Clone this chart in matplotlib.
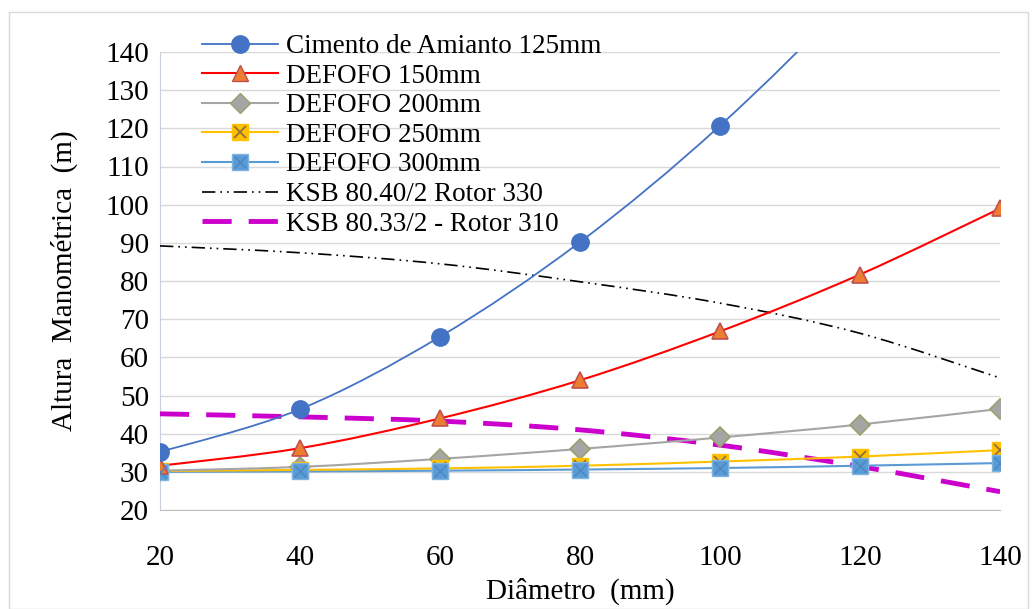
import matplotlib
matplotlib.use("Agg")
import matplotlib.pyplot as plt
from matplotlib.path import Path
from matplotlib.patches import PathPatch, Rectangle
from matplotlib.lines import Line2D
from matplotlib.legend_handler import HandlerTuple
import numpy as np

plt.rcParams['font.family'] = ['Liberation Serif', 'DejaVu Serif']

# ---- data ----
diametro = [20, 40, 60, 80, 100, 120, 140]
cimento_125 = [35.2, 46.4, 65.4, 90.2, 120.7, 157.0, 199.0]
defofo_150 = [31.6, 36.2, 44.0, 54.0, 66.8, 81.7, 99.0]
defofo_200 = [30.3, 31.3, 33.4, 36.0, 39.0, 42.4, 46.5]
defofo_250 = [30.2, 30.5, 30.9, 31.6, 32.7, 34.0, 35.7]
defofo_300 = [30.0, 30.1, 30.3, 30.6, 31.0, 31.6, 32.3]
ksb_8040 = [89.2, 87.4, 84.5, 79.8, 74.2, 66.3, 54.6]
ksb_8033 = [45.2, 44.4, 43.3, 41.0, 37.0, 31.4, 24.8]

labels = ["Cimento de Amianto 125mm", "DEFOFO 150mm", "DEFOFO 200mm",
          "DEFOFO 250mm", "DEFOFO 300mm", "KSB 80.40/2 Rotor 330",
          "KSB 80.33/2 - Rotor 310"]
yticks = list(range(20, 141, 10))
xticks = diametro

W, H = 1032, 609
fig = plt.figure(figsize=(W / 100, H / 100), dpi=100)
fig.patches.append(Rectangle((9 / W, 0), 1019 / W, (H - 12) / H, transform=fig.transFigure,
                             fill=False, edgecolor='#d9d9d9', lw=1.0))
ax = fig.add_axes([160 / W, (H - 510) / H, 840 / W, 458 / H])


def smooth(ax, xs, ys, **kw):
    xs = np.asarray(xs, float); ys = np.asarray(ys, float)
    pts = np.column_stack([xs, ys])
    verts = [pts[0]]
    codes = [Path.MOVETO]
    n = len(pts)
    for i in range(n - 1):
        p0 = pts[i - 1] if i > 0 else pts[i]
        p1 = pts[i]
        p2 = pts[i + 1]
        p3 = pts[i + 2] if i + 2 < n else pts[i + 1]
        c1 = p1 + (p2 - p0) / 6.0
        c2 = p2 - (p3 - p1) / 6.0
        verts += [c1, c2, p2]
        codes += [Path.CURVE4] * 3
    patch = PathPatch(Path(verts, codes), fill=False, transform=ax.transData, **kw)
    ax.add_patch(patch)
    return patch


c_blue = '#4472C4'
c_red = '#FF0000'
c_gray = '#A5A5A5'
c_yel = '#FFC000'
c_lblue = '#5B9BD5'
c_mag = '#CC00CC'
dashdot = (0, (8, 3, 1, 3, 1, 3))
dash = (0, (6, 3.5))

# pump curves
smooth(ax, diametro, ksb_8040, edgecolor='black', lw=1.2, linestyle=dashdot, zorder=3)
smooth(ax, diametro, ksb_8033, edgecolor=c_mag, lw=3.5, linestyle=dash, zorder=3)

# pipe curves (lines)
smooth(ax, diametro, defofo_300, edgecolor=c_lblue, lw=1.5, zorder=4)
smooth(ax, diametro, defofo_250, edgecolor=c_yel, lw=1.5, zorder=4)
smooth(ax, diametro, defofo_200, edgecolor=c_gray, lw=1.5, zorder=4)
smooth(ax, diametro, defofo_150, edgecolor=c_red, lw=1.5, zorder=4)
smooth(ax, diametro, cimento_125, edgecolor=c_blue, lw=1.3, zorder=4)

# markers
ms_sq = 11
ax.plot(diametro, defofo_300, 's', ms=ms_sq, mfc=c_lblue, mec='#7FB3E0', mew=1.0, zorder=5)
ax.plot(diametro, defofo_300, 'x', ms=9, mec='#4A86C0', mew=1.0, zorder=6)
ax.plot(diametro, defofo_250, 's', ms=ms_sq, mfc=c_yel, mec=c_yel, mew=1.0, zorder=4.5)
ax.plot(diametro, defofo_250, 'x', ms=9, mec='#8E6A40', mew=1.2, zorder=4.6)
ax.plot(diametro, defofo_200, 'D', ms=10, mfc=c_gray, mec='#9BA06E', mew=1.2, zorder=4.4)
ax.plot(diametro, defofo_150, '^', ms=12, mfc='#ED7D31', mec='#C0504D', mew=1.2, zorder=5)
ax.plot(diametro, cimento_125, 'o', ms=12.5, mfc=c_blue, mec=c_blue, zorder=5)

ax.set_xlim(20, 140)
ax.set_ylim(20, 140)
ax.set_xticks(xticks)
ax.set_yticks(yticks)
ax.grid(axis='y', color='#d9d9d9', lw=1.0, zorder=0)
ax.set_axisbelow(True)
for s in ['top', 'right']:
    ax.spines[s].set_visible(False)
ax.spines['left'].set_color('#c9d2dc')
ax.spines['bottom'].set_color('#bfbfbf')
ax.tick_params(axis='both', length=0, labelsize=21)
ax.tick_params(axis='x', pad=25)
ax.tick_params(axis='y', pad=8)
ax.set_ylabel("Altura  Manométrica  (m)", fontsize=21)
ax.set_xlabel("Diâmetro  (mm)", fontsize=21)
ax.yaxis.set_label_coords(-0.098, 0.5)
ax.xaxis.set_label_coords(0.5, -0.148)

# legend handles
h125 = Line2D([], [], color=c_blue, lw=1.3, marker='o', ms=12.5, mfc=c_blue, mec=c_blue)
h150 = Line2D([], [], color=c_red, lw=1.5, marker='^', ms=12, mfc='#ED7D31', mec='#C0504D')
h200 = Line2D([], [], color=c_gray, lw=1.5, marker='D', ms=10, mfc=c_gray, mec='#9BA06E')
h250 = (Line2D([], [], color=c_yel, lw=1.5, marker='s', ms=ms_sq, mfc=c_yel, mec=c_yel),
        Line2D([], [], ls='none', marker='x', ms=9, mec='#8E6A40', mew=1.2))
h300 = (Line2D([], [], color=c_lblue, lw=1.5, marker='s', ms=ms_sq, mfc=c_lblue, mec='#7FB3E0'),
        Line2D([], [], ls='none', marker='x', ms=9, mec='#4A86C0', mew=1.0))
h8040 = Line2D([], [], color='black', lw=1.2, linestyle=dashdot)
h8033 = Line2D([], [], color=c_mag, lw=3.5, linestyle=dash)

leg = fig.legend([h125, h150, h200, h250, h300, h8040, h8033], labels,
                 loc='upper left', bbox_to_anchor=(202 / W, 1 - 34 / H),
                 frameon=False, fontsize=19.5, handlelength=2.8, handletextpad=0.3,
                 labelspacing=0.17, borderpad=0, borderaxespad=0,
                 handler_map={tuple: HandlerTuple(ndivide=1, pad=0)})

fig.savefig("out.png", dpi=100)
